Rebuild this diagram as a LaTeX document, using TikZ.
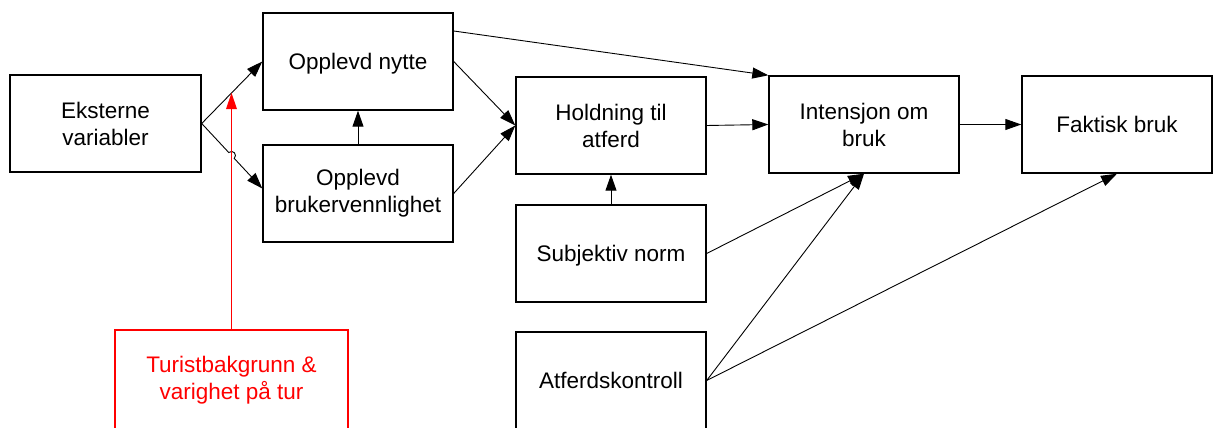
\documentclass[tikz,border=0pt]{standalone}
\usepackage{fontspec}
\setmainfont{Liberation Sans}
\usetikzlibrary{arrows.meta,calc,intersections}

\begin{document}
\begin{tikzpicture}[x=1pt,y=1pt,
  box/.style={draw=black, line width=1.4pt, minimum width=190pt, minimum height=97pt,
    align=center, inner sep=0pt, font=\fontsize{22.5}{27}\selectfont},
  oneline/.style={text depth=0pt},
  redbox/.style={box, draw=red, text=red, line width=1.6pt, minimum width=233pt, minimum height=100pt},
  link/.style={line width=0.9pt, -{Triangle[length=16pt,width=11pt]}},
  redlink/.style={color=red, line width=1.3pt, -{Triangle[length=16pt,width=11pt,line width=0pt]}},
  ]
\useasboundingbox (0,0) rectangle (1213,428);

% boxes of the model
\node[box, minimum width=191pt] (ek) at (105.5,304.5) {Eksterne\\variabler};
\node[box, oneline] (nytte) at (358,366.5) {Opplevd nytte};
\node[box] (bv)    at (358,234.5) {Opplevd\\brukervennlighet};
\node[box] (hold)  at (611,302.5) {Holdning til\\atferd};
\node[box] (int)   at (864,303.5) {Intensjon om\\bruk};
\node[box, oneline] (fak)   at (1117,303.5) {Faktisk bruk};
\node[box, oneline] (sub)   at (611,174.5) {Subjektiv norm};
\node[box, oneline] (atf)   at (611,47.5) {Atferdskontroll};
\node[redbox] (tur) at (231.5,48) {Turistbakgrunn \&\\varighet på tur};

% external variables to the two perceptions
\draw[link, name path=eknytte] (ek.east) -- (nytte.west);
\coordinate (bvin) at ([yshift=5pt]bv.west);
\path[name path=ekbv] (ek.east) -- (bvin);
\path[name path=redv] (tur.north) -- ++(0,300);
\path[name intersections={of=redv and eknytte, by=rtip}];
\path[name intersections={of=redv and ekbv, by=hop}];
\draw[link] let \p1=($(bvin)-(ek.east)$), \n1={atan2(\y1,\x1)} in
  (ek.east) -- ($(hop)!4pt!(ek.east)$)
  arc[start angle=\n1+180, end angle=\n1, radius=4pt] -- (bvin);

% moderator
\draw[redlink] (tur.north) -- (tur.north |- rtip);

% remaining relations
\draw[link] (bv.north) -- (nytte.south);
\draw[link] (nytte.east) -- (hold.west);
\draw[link] (bv.east) -- (hold.west);
\draw[link] ([yshift=30.5pt]nytte.east) -- (int.north west);
\draw[link] (hold.east) -- (int.west);
\draw[link] (int.east) -- (fak.west);
\draw[link] (sub.north) -- (hold.south);
\draw[link] (sub.east) -- (int.south);
\draw[link] (atf.east) -- (int.south);
\draw[link] (atf.east) -- (fak.south);
\end{tikzpicture}
\end{document}
